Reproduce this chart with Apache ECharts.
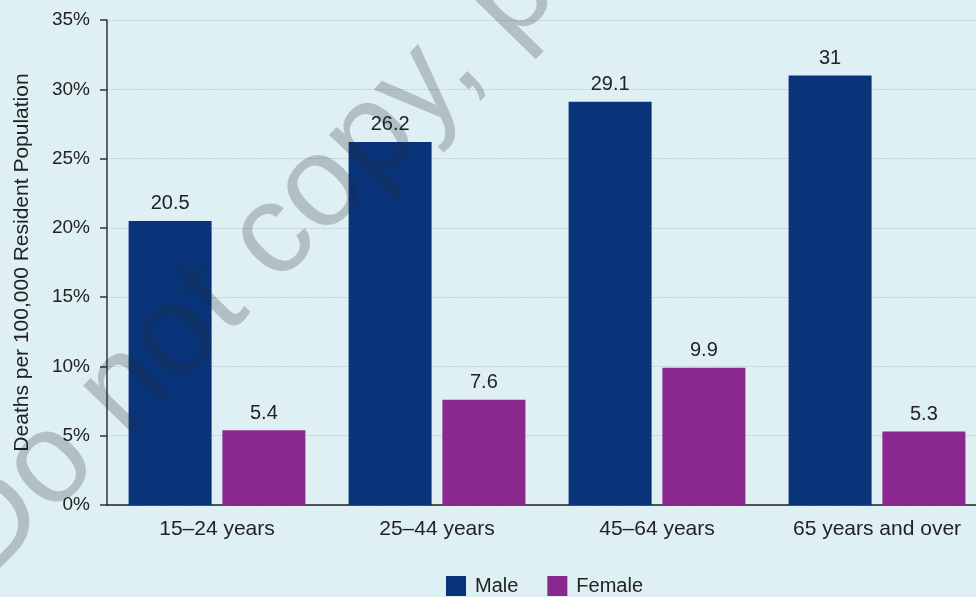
<!DOCTYPE html>
<html>
<head>
<meta charset="utf-8">
<script src="https://cdn.jsdelivr.net/npm/echarts@6/dist/echarts.min.js"></script>
<style>
html,body{margin:0;padding:0;background:#dff0f5;overflow:hidden;width:976px;height:597px;}
#chart{width:987px;height:597px;}
</style>
</head>
<body>
<div id="chart"></div>
<script>
const categories = ['15\u201324 years', '25\u201344 years', '45\u201364 years', '65 years and over'];
const maleValues = [20.5, 26.2, 29.1, 31];
const femaleValues = [5.4, 7.6, 9.9, 5.3];
const seriesNames = ['Male', 'Female'];
const yAxisTitle = 'Deaths per 100,000 Resident Population';
const watermarkText = 'Do not copy, post, or distribute';

const FONT = '"Liberation Sans", Arial, Helvetica, sans-serif';
const chart = echarts.init(document.getElementById('chart'), null, {renderer: 'canvas'});

const option = {
  backgroundColor: '#dff0f5',
  animation: false,
  textStyle: {fontFamily: FONT},
  grid: {left: 107, top: 20, bottom: 92, right: 0, containLabel: false},
  legend: {
    data: seriesNames,
    left: 446,
    top: 576,
    padding: 0,
    itemWidth: 20,
    itemHeight: 20,
    itemGap: 29,
    icon: 'rect',
    textStyle: {fontSize: 20, color: '#222', fontFamily: FONT, padding: [0, 0, 0, 4]}
  },
  xAxis: {
    type: 'category',
    data: categories,
    axisLine: {show: true, lineStyle: {color: '#222', width: 1.5}},
    axisTick: {show: false},
    axisLabel: {fontSize: 21, color: '#222', margin: 14, fontFamily: FONT},
    splitLine: {show: false}
  },
  yAxis: {
    type: 'value',
    min: 0,
    max: 35,
    interval: 5,
    name: yAxisTitle,
    nameLocation: 'middle',
    nameGap: 74,
    nameTextStyle: {fontSize: 21, color: '#222', fontFamily: FONT},
    axisLine: {show: true, lineStyle: {color: '#333', width: 1.5}},
    axisTick: {show: true, length: 7, inside: false, lineStyle: {color: '#333', width: 1.5}},
    axisLabel: {formatter: '{value}%', fontSize: 19, color: '#222', margin: 17, fontFamily: FONT},
    splitLine: {show: true, lineStyle: {color: '#b9c6cb', type: 'dotted', width: 1.2}}
  },
  series: [
    {
      name: seriesNames[0],
      type: 'bar',
      data: maleValues,
      barWidth: 83,
      barGap: '13%',
      itemStyle: {color: '#0a347a'},
      label: {show: true, position: 'top', distance: 7, fontSize: 20, color: '#222', fontFamily: FONT}
    },
    {
      name: seriesNames[1],
      type: 'bar',
      data: femaleValues,
      barWidth: 83,
      barGap: '13%',
      itemStyle: {color: '#8b288d'},
      label: {show: true, position: 'top', distance: 7, fontSize: 20, color: '#222', fontFamily: FONT}
    }
  ],
  graphic: [
    {
      type: 'text',
      x: -40,
      y: 558,
      rotation: 45.6 * Math.PI / 180,
      z: 100,
      silent: true,
      style: {
        text: watermarkText,
        fontSize: 129,
        fontFamily: '"Liberation Sans", Arial, sans-serif',
        fill: 'rgba(30,40,45,0.24)',
        align: 'left',
        verticalAlign: 'middle',
        textAlign: 'left',
        textVerticalAlign: 'middle'
      }
    }
  ]
};
chart.setOption(option);
</script>
</body>
</html>
